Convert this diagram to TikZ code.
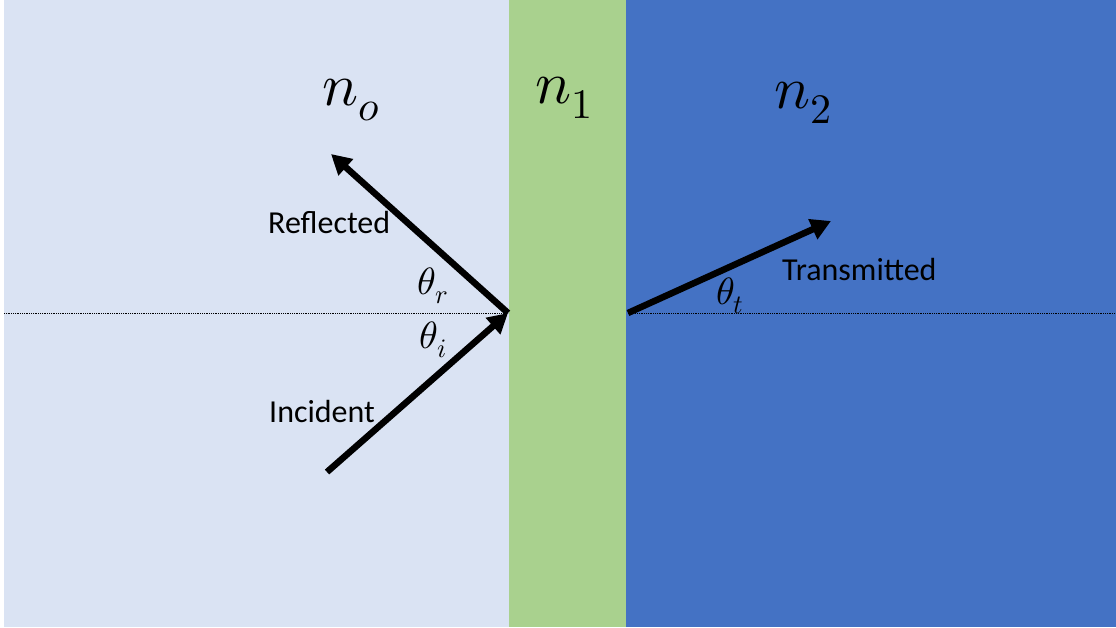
\documentclass[tikz,border=0pt]{standalone}
\usepackage{fontspec}
\usepackage{unicode-math}
\setmathfont{Latin Modern Math}
\newfontfamily\calib{Carlito}
\usetikzlibrary{arrows.meta}
\definecolor{lightbg}{HTML}{DAE3F3}
\definecolor{greenc}{HTML}{A9D18E}
\definecolor{bluec}{HTML}{4472C4}
\begin{document}
\begin{tikzpicture}[x=1pt,y=-1pt,
  ray/.style={line width=6.5pt,-{Triangle[length=20pt,width=21pt]}},
  dotline/.style={line width=0.8pt,densely dotted},
  lbl/.style={font=\calib\fontsize{32}{38}\selectfont,inner sep=0pt},
  ang/.style={font=\fontsize{38}{44}\selectfont,inner sep=0pt},
  idx/.style={font=\fontsize{60}{72}\selectfont,inner sep=0pt}]
\useasboundingbox (0,0) rectangle (1116,627);
\fill[lightbg] (4,0) rectangle (509,627);
\fill[greenc] (509,0) rectangle (626,627);
\fill[bluec] (626,0) rectangle (1116,627);
\coordinate (hit) at (508,313);
\coordinate (tstart) at (628,313);
\coordinate (istart) at (327,472);
\coordinate (rend) at (331,154);
\coordinate (tend) at (831,221);
\coordinate (lleft) at (4,313);
\coordinate (rright) at (1116,313);
\draw[dotline] (lleft) -- (hit);
\draw[dotline] (tstart) -- (rright);
\draw[ray] (istart) -- (hit);
\draw[ray] (hit) -- (rend);
\draw[ray] (tstart) -- (tend);
\node[idx] (n0) at (351,100) {$n_o$};
\node[idx] (n1) at (564,98) {$n_1$};
\node[idx] (n2) at (803,103) {$n_2$};
\node[ang] (tr) at (433,286) {$\theta_r$};
\node[ang] (ti) at (433,340) {$\theta_i$};
\node[ang] (tt) at (730,296) {$\theta_t$};
\node[lbl,anchor=west] (refl) at (268,223) {Reflected};
\node[lbl,anchor=west] (inc) at (269,412) {Incident};
\node[lbl,anchor=west] (trans) at (782,270) {Transmitted};
\end{tikzpicture}
\end{document}
